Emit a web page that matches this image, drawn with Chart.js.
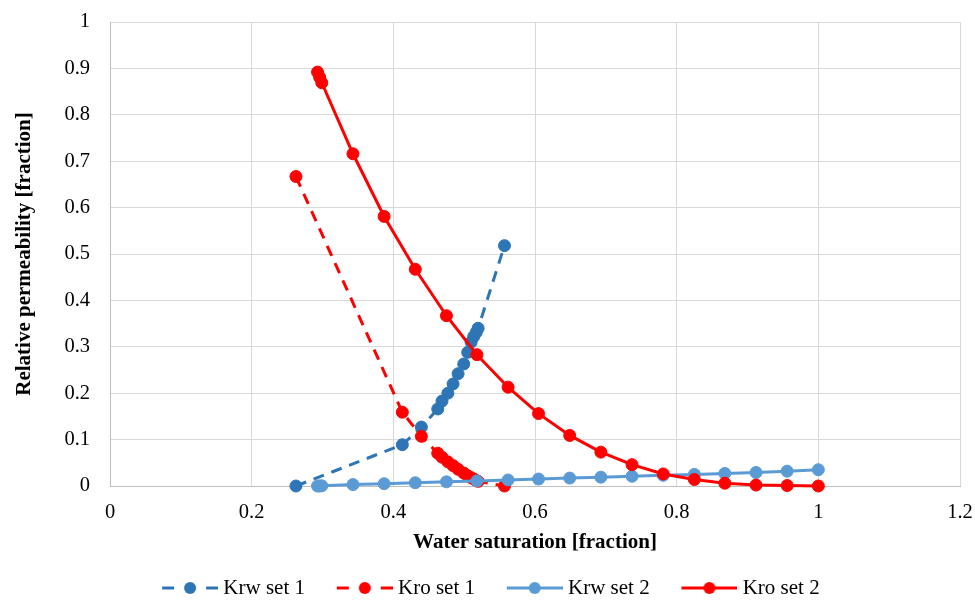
<!DOCTYPE html>
<html>
<head>
<meta charset="utf-8">
<script src="https://cdn.jsdelivr.net/npm/chart.js@4.4.0/dist/chart.umd.min.js"></script>
<style>
  body{margin:0;background:#fff;}
  #wrap{width:975px;height:600px;}
</style>
</head>
<body>
<div id="wrap"><canvas id="relperm_chart" width="975" height="600"></canvas></div>
<script>
// values
const sw_set1=[0.2625,0.4127,0.4396,0.4627,0.4687,0.477,0.4843,0.4914,0.4994,0.505,0.5098,0.5135,0.517,0.5197,0.5569];
const krw_set1=[0,0.089,0.127,0.166,0.183,0.200,0.220,0.242,0.263,0.288,0.310,0.322,0.331,0.340,0.518];
const kro_set1=[0.667,0.159,0.107,0.0707,0.062,0.052,0.044,0.036,0.028,0.022,0.018,0.015,0.012,0.010,0];

const sw_set2=[0.293,0.296,0.299,0.343,0.387,0.431,0.475,0.518,0.562,0.605,0.649,0.693,0.737,0.781,0.825,0.868,0.912,0.956,1.0];
const krw_set2=[0,0,0.0005,0.003,0.005,0.007,0.009,0.011,0.013,0.015,0.017,0.019,0.021,0.023,0.025,0.027,0.029,0.032,0.035];
const kro_set2=[0.892,0.881,0.869,0.716,0.581,0.467,0.367,0.283,0.213,0.156,0.109,0.073,0.046,0.026,0.014,0.006,0.002,0.001,0];

const series_names=["Krw set 1","Kro set 1","Krw set 2","Kro set 2"];
const x_axis=[0,1.2,0.2]; // min,max,step
const y_axis=[0,1,0.1];

const blue_dark="#2e75b6", red="#ff0000", blue_light="#5b9bd5";
const serif="'Liberation Serif','Times New Roman',serif";

function toPoints(xs,ys){
  return xs.map((x,i)=>({x:x,y:ys[i]}));
}

// tick text like excel: 0, 0.1 ... 1
function tickText(v){
  return String(Number(v.toFixed(2)));
}

// excel-like legend key: line + marker
function legendKey(color,dashed){
  const c=document.createElement("canvas");
  c.width=83; c.height=16;
  const g=c.getContext("2d");
  const x0=27, cy=8;
  g.strokeStyle=color; g.fillStyle=color; g.lineWidth=3;
  g.beginPath();
  if(dashed){
    g.moveTo(x0,cy); g.lineTo(x0+12,cy);
    g.moveTo(x0+44,cy); g.lineTo(x0+56,cy);
  }else{
    g.moveTo(x0,cy); g.lineTo(x0+56,cy);
  }
  g.stroke();
  g.beginPath(); g.arc(x0+28,cy,6,0,Math.PI*2); g.fill();
  return c;
}
const keys=[legendKey(blue_dark,true),legendKey(red,true),legendKey(blue_light,false),legendKey(red,false)];

function makeSet(i,xs,ys,color,dashed,order){
  return {
    label:series_names[i],
    data:toPoints(xs,ys),
    showLine:true,
    borderColor:color,
    backgroundColor:color,
    borderWidth:3,
    borderDash:dashed?[11,8]:[],
    pointRadius:6,
    pointBorderWidth:1,
    pointBackgroundColor:color,
    pointBorderColor:color,
    tension:0,
    clip:false,
    order:order
  };
}

const ctx=document.getElementById("relperm_chart").getContext("2d");
new Chart(ctx,{
  type:"scatter",
  data:{
    datasets:[
      makeSet(0,sw_set1,krw_set1,blue_dark,true,4),
      makeSet(1,sw_set1,kro_set1,red,true,3),
      makeSet(2,sw_set2,krw_set2,blue_light,false,2),
      makeSet(3,sw_set2,kro_set2,red,false,1)
    ]
  },
  options:{
    responsive:false,
    animation:false,
    devicePixelRatio:1,
    layout:{padding:{left:0,right:15,top:22,bottom:-8.5}},
    plugins:{
      tooltip:{enabled:false},
      legend:{
        position:"bottom",
        labels:{
          usePointStyle:true,
          pointStyleWidth:72.5,
          padding:10,
          color:"#000",
          font:{family:serif,size:21},
          sort:(a,b)=>a.datasetIndex-b.datasetIndex,
          generateLabels(chart){
            const items=Chart.defaults.plugins.legend.labels.generateLabels(chart);
            items.forEach(it=>{it.pointStyle=keys[it.datasetIndex];});
            return items;
          }
        }
      }
    },
    scales:{
      x:{
        type:"linear",
        min:x_axis[0],max:x_axis[1],
        afterFit(scale){scale.height=81.5;scale.paddingLeft=0;scale.paddingRight=0;},
        ticks:{stepSize:x_axis[2],padding:14,color:"#000",font:{family:serif,size:20.5},callback:tickText},
        grid:{color:"#d9d9d9",lineWidth:1,drawTicks:false},
        border:{color:"#bfbfbf",width:1},
        title:{display:true,text:"Water saturation [fraction]",color:"#000",
          font:{family:serif,size:21,weight:"bold"},padding:{top:0,bottom:12}}
      },
      y:{
        type:"linear",
        min:y_axis[0],max:y_axis[1],
        afterFit(scale){scale.width=110;scale.paddingTop=0;scale.paddingBottom=0;},
        ticks:{stepSize:y_axis[2],padding:20,color:"#000",font:{family:serif,size:20.5},callback:tickText},
        grid:{color:"#d9d9d9",lineWidth:1,drawTicks:false},
        border:{color:"#bfbfbf",width:1},
        title:{display:true,text:"Relative permeability [fraction]",color:"#000",
          font:{family:serif,size:21,weight:"bold"},padding:{top:12,bottom:0}}
      }
    }
  }
});
</script>
</body>
</html>
